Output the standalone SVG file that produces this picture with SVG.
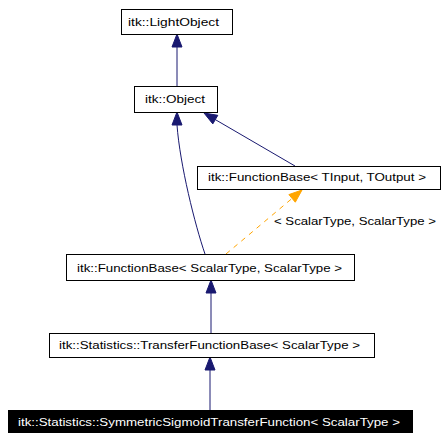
<svg xmlns="http://www.w3.org/2000/svg" width="447" height="442" viewBox="0 0 447 442">
<style>
.box{fill:#fff;stroke:#000;stroke-width:1}
.t{font-family:"Liberation Sans",Arial,sans-serif;font-size:11px;fill:#000}
.e{fill:none;stroke:#191970;stroke-width:1}
.h{fill:#191970;stroke:#191970}
.o{fill:none;stroke:#ffa500;stroke-width:1;stroke-dasharray:5,5}
.oh{fill:#ffa500;stroke:#ffa500}
</style>
<rect width="447" height="442" fill="#fff"/>
<g id="connectors">
<line class="e" x1="177" y1="47" x2="177" y2="86"/>
<polygon class="h" points="177,34 172,47 182,47"/>
<line class="e" x1="295" y1="166" x2="215.3" y2="119.6"/>
<polygon class="h" points="204,113 212.8,123.9 217.8,115.3"/>
<path class="e" d="M205,254 C195,225 180,165 177,125"/>
<polygon class="h" points="177,112 172,125 182,125"/>
<line class="o" x1="226" y1="254" x2="292.1" y2="198.4"/>
<polygon class="oh" points="302,190 295.3,202.2 288.9,194.6"/>
<text class="t" x="274" y="225" textLength="162" lengthAdjust="spacingAndGlyphs">&lt; ScalarType, ScalarType &gt;</text>
<line class="e" x1="211" y1="293" x2="211" y2="333"/>
<polygon class="h" points="211,280 206,293 216,293"/>
<line class="e" x1="210" y1="370" x2="210" y2="410"/>
<polygon class="h" points="210,357 205,370 215,370"/>
</g>
<g id="lightobject">
<rect class="box" x="121.5" y="9.5" width="111" height="25"/>
<text class="t" x="128" y="26" textLength="91" lengthAdjust="spacingAndGlyphs">itk::LightObject</text>
</g>
<g id="object">
<rect class="box" x="134.5" y="86.5" width="83" height="26"/>
<text class="t" x="145" y="103" textLength="60" lengthAdjust="spacingAndGlyphs">itk::Object</text>
</g>
<g id="functionbase-tinput">
<rect class="box" x="197.5" y="166.5" width="243" height="23"/>
<text class="t" x="208" y="181" textLength="218" lengthAdjust="spacingAndGlyphs">itk::FunctionBase&lt; TInput, TOutput &gt;</text>
</g>
<g id="functionbase-scalar">
<rect class="box" x="66.5" y="254.5" width="288" height="26"/>
<text class="t" x="77" y="272" textLength="265" lengthAdjust="spacingAndGlyphs">itk::FunctionBase&lt; ScalarType, ScalarType &gt;</text>
</g>
<g id="transferfunctionbase">
<rect class="box" x="49.5" y="333.5" width="325" height="24"/>
<text class="t" x="59" y="349" textLength="301" lengthAdjust="spacingAndGlyphs">itk::Statistics::TransferFunctionBase&lt; ScalarType &gt;</text>
</g>
<g id="symmetricsigmoid">
<rect x="8" y="410" width="405" height="23" fill="#000"/>
<text class="t" x="18" y="426" textLength="382" lengthAdjust="spacingAndGlyphs" style="fill:#fff">itk::Statistics::SymmetricSigmoidTransferFunction&lt; ScalarType &gt;</text>
</g>
</svg>
